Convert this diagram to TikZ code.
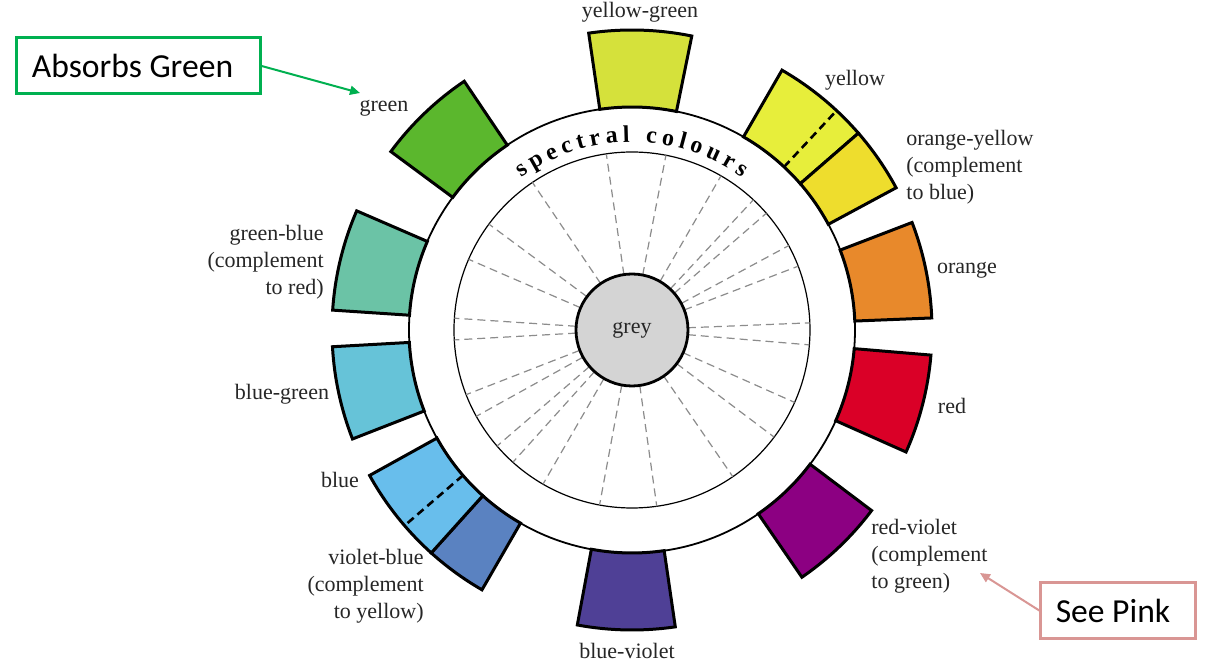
\documentclass[tikz,border=0pt]{standalone}
\usepackage{fontspec}
\setmainfont{Liberation Serif}
\newfontfamily\calloutfont{Carlito}
\usetikzlibrary{arrows.meta,positioning,decorations.text}
\definecolor{cYG}{HTML}{D5E13B}
\definecolor{cY}{HTML}{E7EE3B}
\definecolor{cOY}{HTML}{EEDD2D}
\definecolor{cO}{HTML}{E8892B}
\definecolor{cR}{HTML}{DA0027}
\definecolor{cRV}{HTML}{8C0082}
\definecolor{cBV}{HTML}{4F4096}
\definecolor{cVB}{HTML}{5A82C1}
\definecolor{cB}{HTML}{68BEEC}
\definecolor{cBG}{HTML}{66C3D8}
\definecolor{cGB}{HTML}{6BC3A6}
\definecolor{cG}{HTML}{5BB72D}
\definecolor{cGrey}{HTML}{D4D4D4}
\definecolor{callGreen}{HTML}{00B050}
\definecolor{callPink}{HTML}{D99694}
\tikzset{
  % wheel labels
  wheel/label/.style={font=\fontsize{11}{13.5}\selectfont, text=black!85, inner sep=1pt},
  wheel/block/.style={wheel/label, align=left},
  % callout boxes added on top of the figure
  wheel/call/.style={draw, line width=1.5pt, fill=white, minimum height=28pt,
    inner ysep=6pt, inner xsep=7.5pt,
    font=\calloutfont\fontsize{16.8}{20}\selectfont},
}

\begin{document}
\begin{tikzpicture}[x=0.5pt, y=0.5pt,
  seg/.style={draw=black, line width=1.5pt, line join=miter},
  spoke/.style={draw=black!45, dashed, dash pattern=on 4pt off 2.5pt, line width=0.6pt},
  divd/.style={draw=black, line width=1.3pt, dash pattern=on 4pt off 2.5pt},
  callarrow/.style={-{Triangle[length=5pt,width=4.5pt]}, line width=1pt}]

\useasboundingbox (-632,-333) rectangle (585,330);
\fill[white] (-632,-333) rectangle (585,330);

% rings
\draw[line width=0.9pt] (0,0) circle[radius=223];
\draw[line width=0.6pt] (0,0) circle[radius=178];
\foreach \a in {98.3,79,60,47,41,28.3,21,2.3,-4.8,-24,-37,-55.5,-82,-100.5,
                240,228,220.7,209,201.3,183.2,176.2,156.6,143.5,124}
  {\draw[spoke] (\a:56) -- (\a:178);}
\node[circle, draw, line width=1.4pt, fill=cGrey, minimum size=56pt, inner sep=0pt,
      font=\fontsize{11}{13}\selectfont, text=black!85] (grey) at (0,0) {grey};

% colour segments
\foreach \a/\b/\c in {78.5/98.3/cYG, 41/60/cY, 28.3/41/cOY, 2.3/21/cO, -24/-4.8/cR,
                      -55.5/-37/cRV, -100.5/-81.7/cBV, 228/240/cVB, 209/228/cB,
                      183.2/201.3/cBG, 156.6/176.2/cGB, 124/143.5/cG}
  {\draw[seg, fill=\c] (\a:223) arc[start angle=\a, end angle=\b, radius=223]
     -- (\b:300) arc[start angle=\b, end angle=\a, radius=300] -- cycle;}
\draw[divd] (47:223) -- (47:300);
\draw[divd] (220.7:223) -- (220.7:300);

\path[decorate, decoration={text along path, text align=fit to path,
      text={|\bfseries\fontsize{12}{14}\selectfont|spectral colours}}]
  (126:188) arc[start angle=126, end angle=54, radius=188];

% labels
\node[wheel/label] (lyg) at (8,318) {yellow-green};
\node[wheel/label] (ly) at (223,250) {yellow};
\node[wheel/block, anchor=west] (loy) at (272,163) {orange-yellow\\(complement\\to blue)};
\node[wheel/label] (lo) at (335,60) {orange};
\node[wheel/label] (lr) at (320,-76) {red};
\node[wheel/block, anchor=west] (lrv) at (237,-226) {red-violet\\(complement\\to green)};
\node[wheel/label] (lbv) at (-5,-321) {blue-violet};
\node[wheel/block, anchor=east, align=right] (lvb) at (-206,-256) {violet-blue\\(complement\\to yellow)};
\node[wheel/label] (lb) at (-292,-150) {blue};
\node[wheel/label] (lbg) at (-350,-64) {blue-green};
\node[wheel/block, anchor=east, align=right] (lgb) at (-306,68) {green-blue\\(complement\\to red)};
\node[wheel/label] (lg) at (-248,222) {green};

% callouts
\node[wheel/call, draw=callGreen, minimum width=121.5pt] (absorb) at (-493.5,264) {Absorbs Green\hspace*{6pt}};
\node[wheel/call, draw=callPink, minimum width=77pt] (pink) at (486,-280.5) {See Pink\hspace*{5pt}};
\coordinate (gtip) at (-272,237);
\coordinate (ptip) at (348,-243);
\draw[callarrow, draw=callGreen, fill=callGreen] (absorb.east) -- (gtip);
\draw[callarrow, draw=callPink, fill=callPink] (pink.west) -- (ptip);
\end{tikzpicture}
\end{document}
